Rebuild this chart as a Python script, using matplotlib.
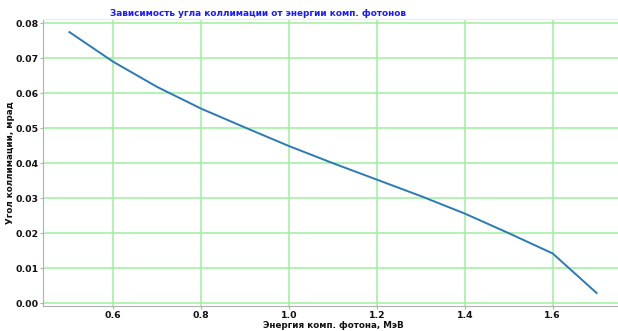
import matplotlib
matplotlib.use("Agg")
import matplotlib.pyplot as plt

energy = [0.5, 0.6, 0.7, 0.8, 0.9, 1.0, 1.1, 1.2, 1.3, 1.4, 1.5, 1.6, 1.7]
angle = [0.0775, 0.0690, 0.0618, 0.0556, 0.0502, 0.0449, 0.0400, 0.0353, 0.0306, 0.0256, 0.0200, 0.0142, 0.0029]

title = "Зависимость угла коллимации от энергии комп. фотонов"
xlabel = "Энергия комп. фотона, МэВ"
ylabel = "Угол коллимации, мрад"

plt.rcParams['font.family'] = ['DejaVu Sans']
fig = plt.figure(figsize=(6.18, 3.31), dpi=100)
ax = fig.add_axes([0.0696, 0.0755, 0.9384, 0.867])
ax.plot(energy, angle, color='#2a7ab8', linewidth=1.4)
ax.grid(True, color='#9ef09e', linewidth=1.1)
ax.set_axisbelow(True)

for s in ['left', 'bottom']:
    ax.spines[s].set_color('#b0b0b0')
ax.spines['right'].set_visible(False)
ax.spines['top'].set_color('#ececec')

ax.tick_params(axis='both', colors='#b0b0b0', labelcolor='#111111', labelsize=6.7, length=2, pad=1.5)
ax.set_yticks([0.0, 0.01, 0.02, 0.03, 0.04, 0.05, 0.06, 0.07, 0.08])
ax.set_yticklabels([f"{v:.2f}" for v in ax.get_yticks()], fontweight='bold')
ax.set_xticks([0.6, 0.8, 1.0, 1.2, 1.4, 1.6])
ax.set_xticklabels([f"{v:.1f}" for v in ax.get_xticks()], fontweight='bold')

ax.set_xlabel(xlabel, fontsize=6.3, fontweight='bold', color='#111111', labelpad=0.5)
ax.set_ylabel(ylabel, fontsize=6.3, fontweight='bold', color='#111111', labelpad=0.5)
ax.yaxis.set_label_coords(-0.049, 0.5)
ax.set_title(title, fontsize=6.4, fontweight='bold', color='#1a1aff', x=0.371, pad=2)

fig.savefig("out.png", dpi=100)
